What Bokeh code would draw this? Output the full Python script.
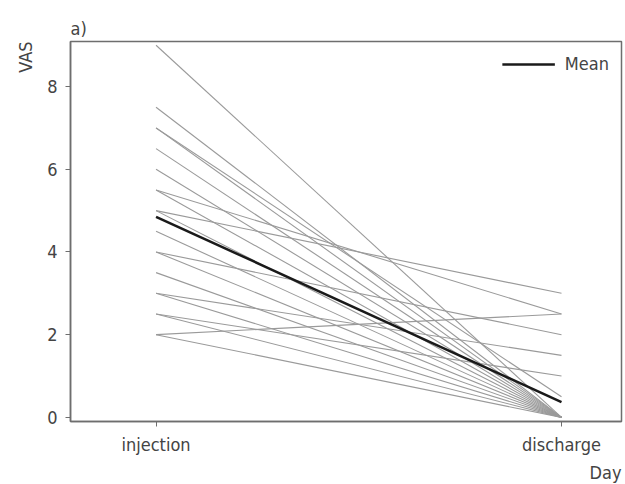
from bokeh.plotting import figure
from bokeh.models import FixedTicker, Legend, LegendItem, Title
from bokeh.embed import file_html
from bokeh.resources import INLINE

# ---- data ----
days = ["injection", "discharge"]
vas_injection = [9, 7.5, 7, 7, 6.5, 6, 5.5, 5.5, 5, 5, 4.5, 4, 4, 3.5, 3, 3, 2.5, 2.5, 2, 2]
vas_discharge = [0, 0, 0.5, 0, 0, 0, 2.5, 0, 3, 0, 0, 2, 0, 0, 1.5, 0, 1, 0, 2.5, 0]
mean_vas = [4.85, 0.37]
y_ticks = [0, 2, 4, 6, 8]

FONT = "DejaVu Sans Condensed, Liberation Sans Narrow, Roboto, sans-serif"
TXT = "#444444"
AX = "#6e6e6e"
FS = "18px"

day_pos = list(range(len(days)))

p = figure(width=625, height=484, output_backend="svg", toolbar_location=None,
           x_range=(-0.211, 1.148), y_range=(-0.1, 9.09),
           min_border_left=70, min_border_right=4, min_border_top=41, min_border_bottom=62)

xs = [day_pos for _ in vas_injection]
ys = [[a, b] for a, b in zip(vas_injection, vas_discharge)]
p.multi_line(xs=xs, ys=ys, line_color="#9a9a9a", line_width=1.1)
mean_r = p.line(x=day_pos, y=mean_vas, line_color="#1a1a1a", line_width=2.5)

p.grid.visible = False
p.outline_line_color = AX
p.outline_line_width = 1.5

p.xaxis.ticker = FixedTicker(ticks=day_pos)
p.xaxis.major_label_overrides = {i: d for i, d in zip(day_pos, days)}
p.yaxis.ticker = FixedTicker(ticks=y_ticks)
for ax in (p.xaxis, p.yaxis):
    ax.axis_line_color = AX
    ax.axis_line_width = 1.5
    ax.major_tick_line_color = AX
    ax.major_tick_in = 0
    ax.major_tick_out = 5
    ax.minor_tick_line_color = None
    ax.major_label_text_font = FONT
    ax.major_label_text_font_size = FS
    ax.major_label_text_color = TXT
p.xaxis.major_label_standoff = 7
p.yaxis.major_label_standoff = 8

p.title.text = "a)"
p.title.text_font = FONT
p.title.text_font_size = FS
p.title.text_font_style = "normal"
p.title.text_color = TXT
p.title.offset = 0
p.title.standoff = 6

p.add_layout(Title(text="VAS", align="right", text_font=FONT, text_font_size=FS,
                   text_font_style="normal", text_color=TXT, standoff=18), "left")
p.add_layout(Title(text="Day", align="right", text_font=FONT, text_font_size=FS,
                   text_font_style="normal", text_color=TXT, standoff=4), "below")

legend = Legend(items=[LegendItem(label="Mean", renderers=[mean_r])],
                location="top_right", border_line_color=None, background_fill_alpha=0,
                label_text_font=FONT, label_text_font_size=FS, label_text_color=TXT,
                glyph_width=53, glyph_height=20, label_standoff=10, margin=12, padding=6)
p.add_layout(legend)

open("out.html", "w").write(file_html(p, INLINE))
